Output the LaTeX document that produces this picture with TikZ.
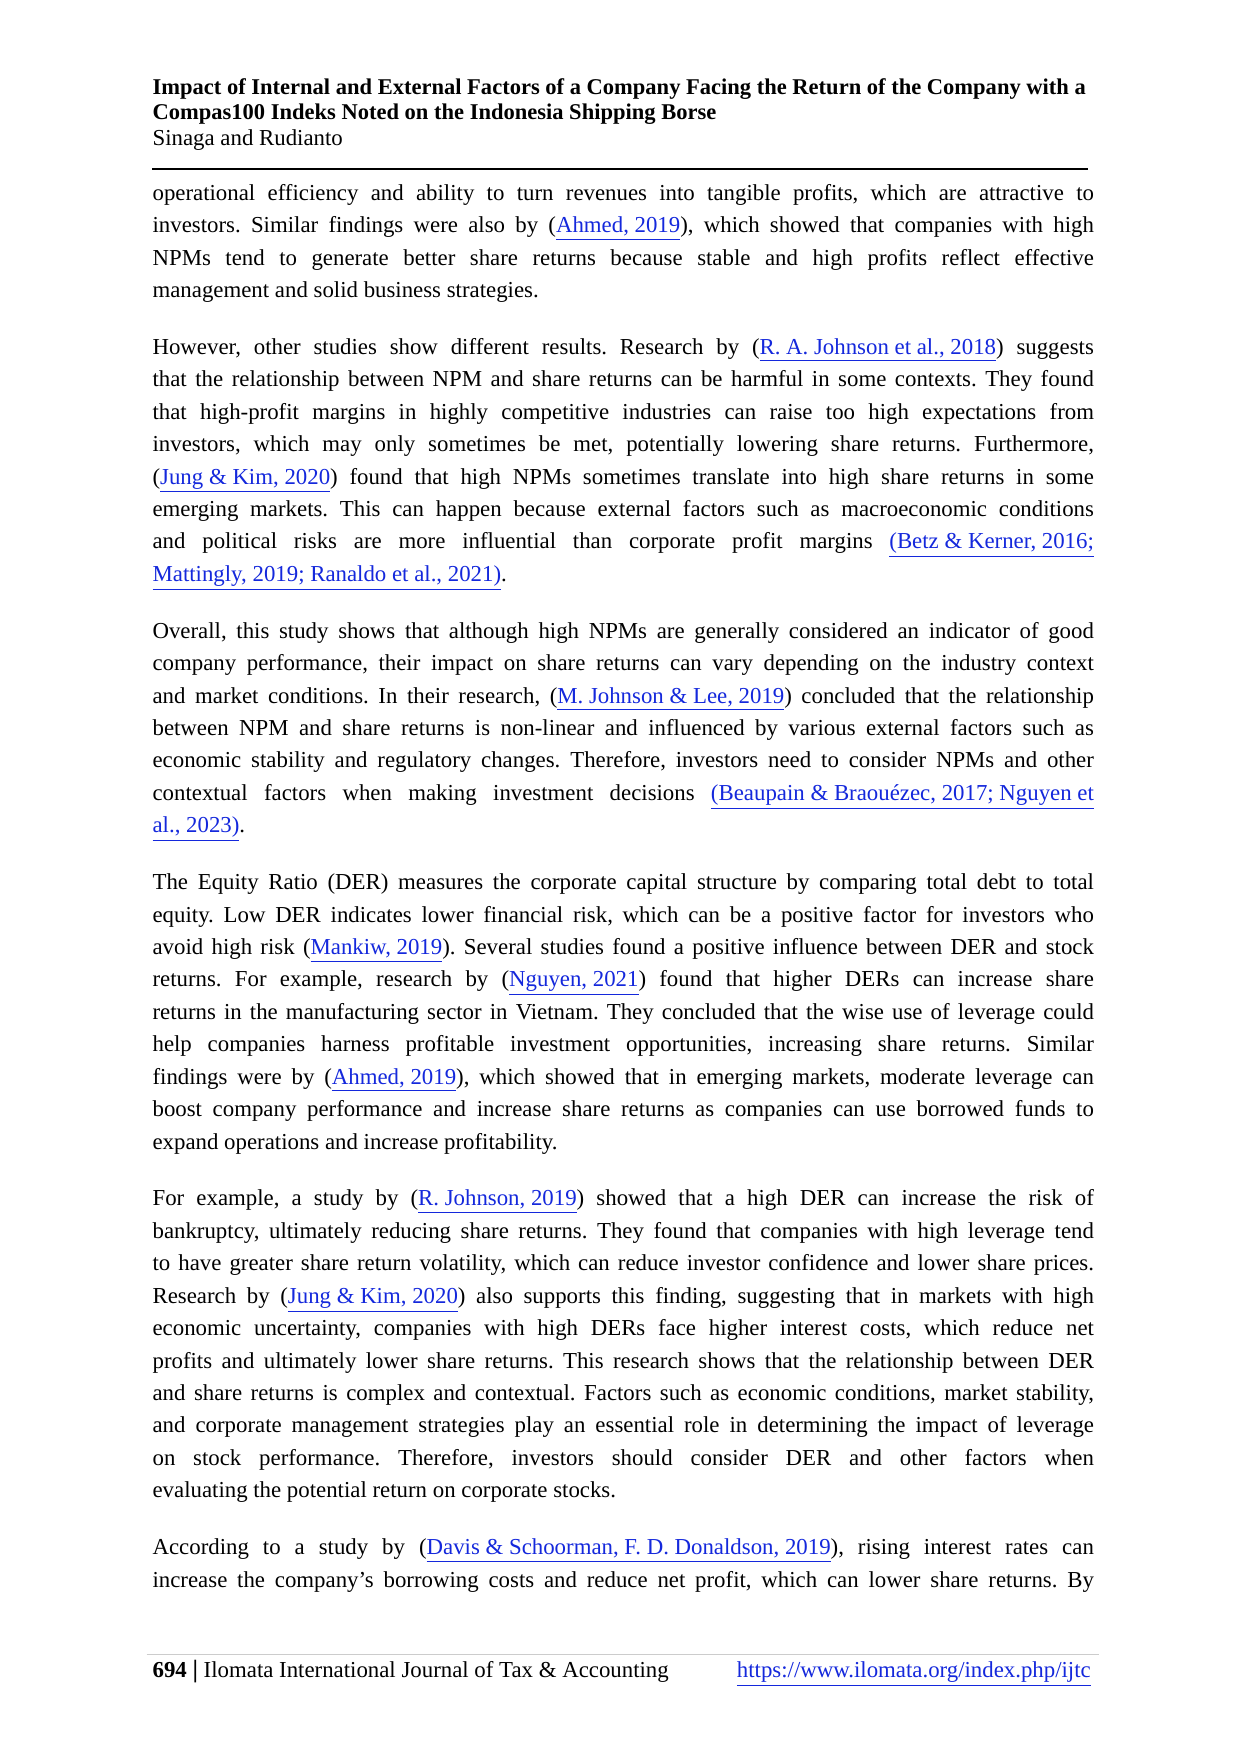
\documentclass[tikz,border=0pt]{standalone}
\usepackage{fontspec}
\setmainfont{Liberation Serif}
\definecolor{linkblue}{RGB}{20,40,220}
\newcommand{\lk}[1]{\textcolor{linkblue}{\underline{#1}}}
\begin{document}
\frenchspacing
\begin{tikzpicture}[x=0.01909cm,y=-0.01909cm,
  body/.style={anchor=north west,inner sep=0pt,text width=15.94cm,align=justify,
    font=\fontsize{11}{15.62}\selectfont\frenchspacing},
  hdr/.style={anchor=base west,inner sep=0pt,font=\fontsize{11}{13}\selectfont}]
\useasboundingbox (0,0) rectangle (1100,1556);
\fill[white] (0,0) rectangle (1100,1556);
\node[hdr,font=\fontsize{10.85}{13}\selectfont\bfseries] (t1) at (135,84) {Impact of Internal and External Factors of a Company Facing the Return of the Company with a};
\node[hdr,font=\fontsize{10.85}{13}\selectfont\bfseries] (t2) at (135,106) {Compas100 Indeks Noted on the Indonesia Shipping Borse};
\node[hdr] (au) at (135,129) {Sinaga and Rudianto};
\coordinate (r1) at (135,150); \coordinate (r2) at (965,150);
\draw[line width=0.9pt] (r1) -- (r2);
\node[body] (txt) at (135,163) {\setlength{\parskip}{11.8pt}%
operational efficiency and ability to turn revenues into tangible profits, which are attractive to\linebreak
investors. Similar findings were also by (\lk{Ahmed, 2019}), which showed that companies with high\linebreak
NPMs tend to generate better share returns because stable and high profits reflect effective\linebreak
management and solid business strategies.\par
However, other studies show different results. Research by (\lk{R. A. Johnson et al., 2018}) suggests\linebreak
that the relationship between NPM and share returns can be harmful in some contexts. They found\linebreak
that high-profit margins in highly competitive industries can raise too high expectations from\linebreak
investors, which may only sometimes be met, potentially lowering share returns. Furthermore,\linebreak
(\lk{Jung \& Kim, 2020}) found that high NPMs sometimes translate into high share returns in some\linebreak
emerging markets. This can happen because external factors such as macroeconomic conditions\linebreak
and political risks are more influential than corporate profit margins \lk{(Betz \& Kerner, 2016;}\linebreak
\lk{Mattingly, 2019; Ranaldo et al., 2021)}.\par
Overall, this study shows that although high NPMs are generally considered an indicator of good\linebreak
company performance, their impact on share returns can vary depending on the industry context\linebreak
and market conditions. In their research, (\lk{M. Johnson \& Lee, 2019}) concluded that the relationship\linebreak
between NPM and share returns is non-linear and influenced by various external factors such as\linebreak
economic stability and regulatory changes. Therefore, investors need to consider NPMs and other\linebreak
contextual factors when making investment decisions \lk{(Beaupain \& Braouézec, 2017; Nguyen et}\linebreak
\lk{al., 2023)}.\par
The Equity Ratio (DER) measures the corporate capital structure by comparing total debt to total\linebreak
equity. Low DER indicates lower financial risk, which can be a positive factor for investors who\linebreak
avoid high risk (\lk{Mankiw, 2019}). Several studies found a positive influence between DER and stock\linebreak
returns. For example, research by (\lk{Nguyen, 2021}) found that higher DERs can increase share\linebreak
returns in the manufacturing sector in Vietnam. They concluded that the wise use of leverage could\linebreak
help companies harness profitable investment opportunities, increasing share returns. Similar\linebreak
findings were by (\lk{Ahmed, 2019}), which showed that in emerging markets, moderate leverage can\linebreak
boost company performance and increase share returns as companies can use borrowed funds to\linebreak
expand operations and increase profitability.\par
For example, a study by (\lk{R. Johnson, 2019}) showed that a high DER can increase the risk of\linebreak
bankruptcy, ultimately reducing share returns. They found that companies with high leverage tend\linebreak
to have greater share return volatility, which can reduce investor confidence and lower share prices.\linebreak
Research by (\lk{Jung \& Kim, 2020}) also supports this finding, suggesting that in markets with high\linebreak
economic uncertainty, companies with high DERs face higher interest costs, which reduce net\linebreak
profits and ultimately lower share returns. This research shows that the relationship between DER\linebreak
and share returns is complex and contextual. Factors such as economic conditions, market stability,\linebreak
and corporate management strategies play an essential role in determining the impact of leverage\linebreak
on stock performance. Therefore, investors should consider DER and other factors when\linebreak
evaluating the potential return on corporate stocks.\par
{\parfillskip=0pt According to a study by (\lk{Davis \& Schoorman, F. D. Donaldson, 2019}), rising interest rates can\linebreak
increase the company’s borrowing costs and reduce net profit, which can lower share returns. By\par}};
\coordinate (f1) at (130,1468); \coordinate (f2) at (975,1468);
\draw[gray!40,line width=0.5pt] (f1) -- (f2);
\node[hdr,font=\fontsize{11}{13}\selectfont] (foot) at (135,1488) {\textbf{694} {\large\textbf{|}} Ilomata International Journal of Tax \& Accounting};
\node[anchor=base east,inner sep=0pt,font=\fontsize{11}{13}\selectfont] (url) at (968,1488) {\lk{https://www.ilomata.org/index.php/ijtc}};
\end{tikzpicture}
\end{document}
